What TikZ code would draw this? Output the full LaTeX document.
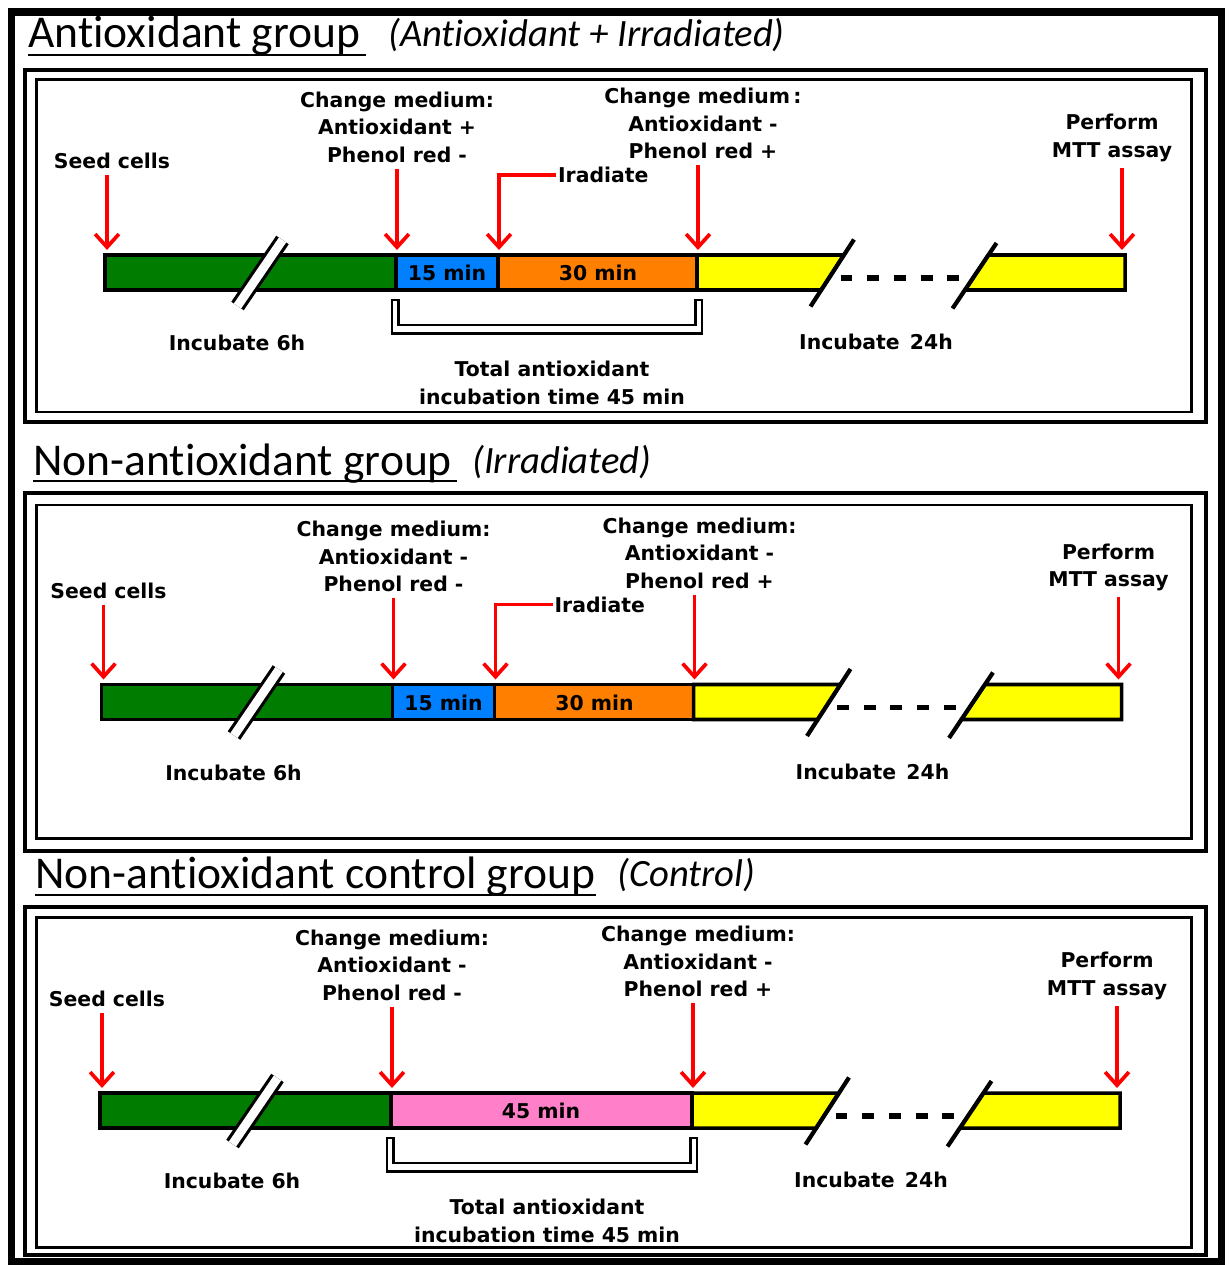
\documentclass[tikz,border=0pt]{standalone}
\usepackage{fontspec}
\setmainfont{DejaVu Sans}
\newfontfamily\titlefont[Ligatures=NoCommon]{Carlito}
\usepackage{tikz}
\usetikzlibrary{arrows.meta}
\definecolor{bargreen}{RGB}{0,125,0}
\definecolor{barblue}{RGB}{0,128,255}
\definecolor{barorange}{RGB}{255,128,0}
\definecolor{baryellow}{RGB}{255,255,0}
\definecolor{barpink}{RGB}{255,128,200}

\begin{document}
\begin{tikzpicture}[x=0.2mm, y=-0.2mm,
    lbl/.style={font=\fontsize{11.6}{15.6}\selectfont\bfseries, align=center},
    ttl/.style={font=\titlefont\fontsize{25.9}{30}\selectfont, anchor=base west, inner sep=0pt},
    sub/.style={font=\titlefont\itshape\fontsize{22}{26}\selectfont, anchor=base west, inner sep=0pt},
    uline/.style={line width=1.5pt},
    outframe/.style={line width=2.8pt},
    inframe/.style={line width=1.7pt},
    seg/.style={draw=black, line width=2pt},
    twinbreak/.style={line width=1.8pt, double=white, double distance=5pt},
    cutline/.style={line width=2.4pt},
    gapline/.style={line width=3.4pt, dash pattern=on 6.8pt off 8.4pt},
    bracket/.style={draw=black, line width=1.6pt, fill=white},
    redarr/.style={draw=red, line width=2.1pt, -{Straight Barb[length=7.5pt, width=13.5pt]}}
]
    \useasboundingbox (0,0) rectangle (1228,1265);
    \fill[white] (0,0) rectangle (1228,1265);
    \draw[line width=4pt] (11.5,12) rectangle (1221,1261.5);

    % Titles
    \node[ttl] (ttlA) at (28,48) {Antioxidant group};
    \draw[uline] (28,55) -- (366,55);
    \node[sub] (subA) at (388,47) {(Antioxidant + Irradiated)};
    \node[ttl] (ttlB) at (33,475) {Non-antioxidant group};
    \draw[uline] (33,481) -- (457,481);
    \node[sub] (subB) at (472,473) {(Irradiated)};
    \node[ttl] (ttlC) at (35,888) {Non-antioxidant control group};
    \draw[uline] (35,895) -- (596,895);
    \node[sub] (subC) at (617,886) {(Control)};

    % Frames
    \draw[outframe] (25,70) rectangle (1206,422);
    \draw[inframe] (36.5,79.5) rectangle (1191.5,412);
    \draw[outframe] (25,493) rectangle (1206,851);
    \draw[inframe] (36.5,505) rectangle (1191.5,838);
    \draw[outframe] (25,907) rectangle (1206,1255);
    \draw[inframe] (36.5,917) rectangle (1191.5,1247);

    % Panel 1: antioxidant group
    \draw[seg, fill=bargreen] (105,255) rectangle (396,290);
    \draw[seg, fill=barblue] (396,255) rectangle (498,290);
    \draw[seg, fill=barorange] (498,255) rectangle (697,290);
    \draw[seg, fill=baryellow] (697,255) -- (843.9,255) -- (821.2,290) -- (697,290) -- cycle;
    \draw[seg, fill=baryellow] (988.4,255) -- (1125,255) -- (1125,290) -- (964.9,290) -- cycle;
    \draw[twinbreak] (237.5,306) -- (282.5,240);
    \draw[cutline] (854,239.5) -- (810.5,306.5);
    \draw[cutline] (996.5,243) -- (952.5,308.5);
    \draw[gapline] (840.5,278) -- (960.5,278);
    \draw[bracket] (392,300) -- (392,333.5) -- (702,333.5) -- (702,300) -- (695.5,300) -- (695.5,325) -- (398.5,325) -- (398.5,300) -- cycle;

    \node[lbl] (seedA) at (112,161) {Seed cells};
    \node[lbl] (cmA1) at (397,127) {Change medium:\\Antioxidant +\\Phenol red -};
    \node[lbl] (cmA2) at (703,123.5) {Change medium\,:\\Antioxidant -\\Phenol red +};
    \node[lbl, anchor=west, inner sep=1pt] (irrA) at (556,175) {Iradiate};
    \node[lbl] (mttA) at (1112,138) {Perform\\MTT assay};
    \node[lbl] (minA1) at (447,273) {15 min};
    \node[lbl] (minA2) at (598,273) {30 min};
    \node[lbl] (incA1) at (237,343) {Incubate 6h};
    \node[lbl] (incA2) at (876,342) {Incubate\enspace 24h};
    \node[lbl] (totA) at (552,383) {Total antioxidant\\incubation time 45 min};

    \coordinate (seedtA) at (107,250);
    \coordinate (cmtA1) at (397,250);
    \coordinate (irrtA) at (499,250);
    \coordinate (cmtA2) at (698,250);
    \coordinate (mtttA) at (1122,250);
    \draw[redarr] (seedA.south -| seedtA) -- (seedtA);
    \draw[redarr] (cmA1.south -| cmtA1) -- (cmtA1);
    \draw[redarr] (irrA.west) -| (irrtA);
    \draw[redarr] (cmA2.south -| cmtA2) -- (cmtA2);
    \draw[redarr] (mttA.south -| mtttA) -- (mtttA);

    % Panel 2: non-antioxidant group
    \begin{scope}[shift={(-3.5,429.5)}]
    \draw[seg, fill=bargreen] (105,255) rectangle (396,290);
    \draw[seg, fill=barblue] (396,255) rectangle (498,290);
    \draw[seg, fill=barorange] (498,255) rectangle (697,290);
    \draw[seg, fill=baryellow] (697,255) -- (843.9,255) -- (821.2,290) -- (697,290) -- cycle;
    \draw[seg, fill=baryellow] (988.4,255) -- (1125,255) -- (1125,290) -- (964.9,290) -- cycle;
    \draw[twinbreak] (237.5,306) -- (282.5,240);
    \draw[cutline] (854,239.5) -- (810.5,306.5);
    \draw[cutline] (996.5,243) -- (952.5,308.5);
    \draw[gapline] (840.5,278) -- (960.5,278);

    \node[lbl] (seedB) at (112,161) {Seed cells};
    \node[lbl] (cmB1) at (397,127) {Change medium:\\Antioxidant -\\Phenol red -};
    \node[lbl] (cmB2) at (703,123.5) {Change medium:\\Antioxidant -\\Phenol red +};
    \node[lbl, anchor=west, inner sep=1pt] (irrB) at (556,175) {Iradiate};
    \node[lbl] (mttB) at (1112,138) {Perform\\MTT assay};
    \node[lbl] (minB1) at (447,273) {15 min};
    \node[lbl] (minB2) at (598,273) {30 min};
    \node[lbl] (incB1) at (237,343) {Incubate 6h};
    \node[lbl] (incB2) at (876,342) {Incubate\enspace 24h};

    \coordinate (seedtB) at (107,250);
    \coordinate (cmtB1) at (397,250);
    \coordinate (irrtB) at (499,250);
    \coordinate (cmtB2) at (698,250);
    \coordinate (mtttB) at (1122,250);
    \draw[redarr] (seedB.south -| seedtB) -- (seedtB);
    \draw[redarr] (cmB1.south -| cmtB1) -- (cmtB1);
    \draw[redarr] (irrB.west) -| (irrtB);
    \draw[redarr] (cmB2.south -| cmtB2) -- (cmtB2);
    \draw[redarr] (mttB.south -| mtttB) -- (mtttB);
    \end{scope}

    % Panel 3: control group
    \begin{scope}[shift={(-5,838)}]
    \draw[seg, fill=bargreen] (105,255) rectangle (396,290);
    \draw[seg, fill=barpink] (396,255) rectangle (697,290);
    \draw[seg, fill=baryellow] (697,255) -- (843.9,255) -- (821.2,290) -- (697,290) -- cycle;
    \draw[seg, fill=baryellow] (988.4,255) -- (1125,255) -- (1125,290) -- (964.9,290) -- cycle;
    \draw[twinbreak] (237.5,306) -- (282.5,240);
    \draw[cutline] (854,239.5) -- (810.5,306.5);
    \draw[cutline] (996.5,243) -- (952.5,308.5);
    \draw[gapline] (840.5,278) -- (960.5,278);
    \draw[bracket] (392,300) -- (392,333.5) -- (702,333.5) -- (702,300) -- (695.5,300) -- (695.5,325) -- (398.5,325) -- (398.5,300) -- cycle;

    \node[lbl] (seedC) at (112,161) {Seed cells};
    \node[lbl] (cmC1) at (397,127) {Change medium:\\Antioxidant -\\Phenol red -};
    \node[lbl] (cmC2) at (703,123.5) {Change medium:\\Antioxidant -\\Phenol red +};
    \node[lbl] (mttC) at (1112,138) {Perform\\MTT assay};
    \node[lbl] (minC) at (546,273) {45 min};
    \node[lbl] (incC1) at (237,343) {Incubate 6h};
    \node[lbl] (incC2) at (876,342) {Incubate\enspace 24h};
    \node[lbl] (totC) at (552,383) {Total antioxidant\\incubation time 45 min};

    \coordinate (seedtC) at (107,250);
    \coordinate (cmtC1) at (397,250);
    \coordinate (cmtC2) at (698,250);
    \coordinate (mtttC) at (1122,250);
    \draw[redarr] (seedC.south -| seedtC) -- (seedtC);
    \draw[redarr] (cmC1.south -| cmtC1) -- (cmtC1);
    \draw[redarr] (cmC2.south -| cmtC2) -- (cmtC2);
    \draw[redarr] (mttC.south -| mtttC) -- (mtttC);
    \end{scope}
\end{tikzpicture}
\end{document}
